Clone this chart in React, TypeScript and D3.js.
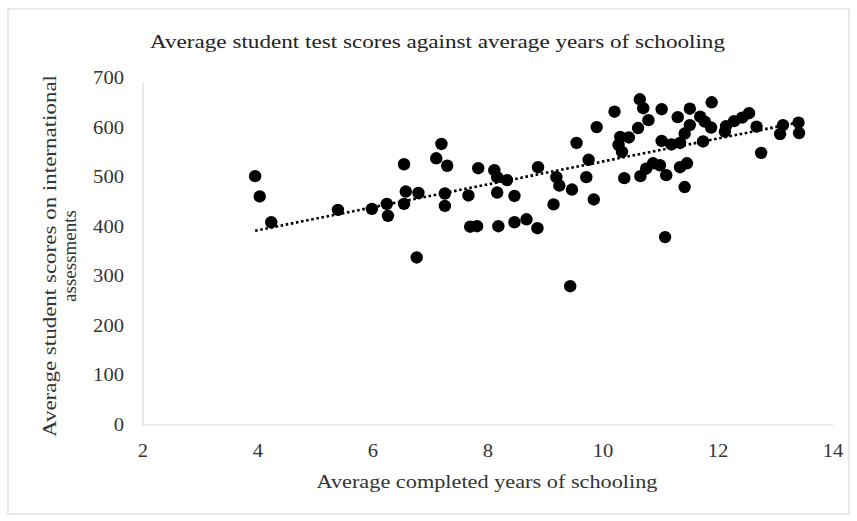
import React from "react";
import * as d3 from "d3";

const yearsOfSchooling: number[] = [
  3.95, 4.03, 4.23, 5.39, 5.98, 6.24, 6.26, 6.54, 6.57, 6.54, 6.79, 6.76,
  7.19, 7.10, 7.29, 7.25, 7.25, 7.66, 7.83, 7.69, 7.81, 8.11, 8.16, 8.33,
  8.16, 8.18, 8.46, 8.46, 8.67, 8.86, 8.87, 9.14, 9.19, 9.24, 9.46, 9.43,
  9.54, 9.75, 9.71, 9.84, 9.89, 10.20, 10.30, 10.27, 10.33, 10.45, 10.61,
  10.37, 10.64, 10.70, 10.79, 10.65, 10.75, 10.87, 10.99, 11.10, 11.34,
  11.46, 11.42, 11.08, 11.02, 11.30, 11.51, 11.89, 11.02, 11.19, 11.34,
  11.42, 11.51, 11.69, 11.77, 11.88, 11.74, 12.14, 12.12, 12.28, 12.42,
  12.54, 12.67, 12.75, 13.08, 13.13, 13.40, 13.41,
];
const testScores: number[] = [
  502, 461, 409, 434, 436, 446, 422, 526, 471, 446, 468, 338,
  567, 538, 523, 467, 442, 463, 518, 400, 401, 514, 500, 494,
  469, 401, 462, 409, 415, 397, 520, 445, 500, 483, 475, 280,
  569, 535, 500, 455, 601, 632, 581, 565, 551, 580, 599,
  498, 657, 639, 615, 502, 517, 528, 524, 504, 520,
  528, 480, 379, 637, 621, 638, 651, 573, 566, 569,
  588, 605, 622, 612, 600, 572, 603, 592, 613, 620,
  629, 602, 549, 587, 605, 610, 589,
];

const xTicks: number[] = [2, 4, 6, 8, 10, 12, 14];
const yTicks: number[] = [0, 100, 200, 300, 400, 500, 600, 700];

const titleText = "Average student test scores against average years of schooling";
const xAxisTitle = "Average completed years of schooling";
const yAxisTitleLines = ["Average student scores on international", "assessments"];

const FONT = "'Liberation Serif', 'Times New Roman', serif";

export default function App() {
  const W = 857;
  const H = 521;
  const x = d3.scaleLinear().domain([2, 14]).range([143, 833]);
  const y = d3.scaleLinear().domain([0, 700]).range([425, 78]);

  const pts = yearsOfSchooling.map((v, i) => ({ x: v, y: testScores[i] }));
  const mx = d3.mean(pts, (p) => p.x) as number;
  const my = d3.mean(pts, (p) => p.y) as number;
  const sxy = d3.sum(pts, (p) => (p.x - mx) * (p.y - my));
  const sxx = d3.sum(pts, (p) => (p.x - mx) * (p.x - mx));
  const slope = sxy / sxx;
  const intercept = my - slope * mx;
  const [minX, maxX] = d3.extent(pts, (p) => p.x) as [number, number];
  const trend = [minX, maxX].map((v) => ({ x: v, y: intercept + slope * v }));
  const line = d3
    .line<{ x: number; y: number }>()
    .x((d) => x(d.x))
    .y((d) => y(d.y));

  return (
    <svg
      width={W}
      height={H}
      style={{ position: "absolute", left: 0, top: 0, background: "#fff" }}
      fontFamily={FONT}
    >
      <rect x={0} y={0} width={W} height={H} fill="#ffffff" />
      <rect x={8} y={9} width={841} height={505} fill="none" stroke="#e2e2e2" strokeWidth={1.5} />
      <text x={437.5} y={48} textAnchor="middle" fontSize={19} fill="#222" textLength={575} lengthAdjust="spacingAndGlyphs">
        {titleText}
      </text>
      {/* axes */}
      <line x1={x(2)} x2={x(2)} y1={83} y2={y(0)} stroke="#d4d4d4" strokeWidth={1} />
      <line x1={x(2)} x2={x(14)} y1={y(0)} y2={y(0)} stroke="#d4d4d4" strokeWidth={1} />
      {yTicks.map((t) => (
        <text key={"y" + t} x={124} y={y(t) + 6} textAnchor="end" fontSize={18} fill="#333"
          textLength={String(t).length * 10.3} lengthAdjust="spacingAndGlyphs">
          {t}
        </text>
      ))}
      {xTicks.map((t) => (
        <text key={"x" + t} x={x(t)} y={457} textAnchor="middle" fontSize={18} fill="#333"
          textLength={String(t).length * 10.3} lengthAdjust="spacingAndGlyphs">
          {t}
        </text>
      ))}
      <text x={487} y={488} textAnchor="middle" fontSize={19} fill="#333" textLength={341} lengthAdjust="spacingAndGlyphs">
        {xAxisTitle}
      </text>
      <g transform="translate(56,256) rotate(-90)">
        <text x={0} y={0} textAnchor="middle" fontSize={19} fill="#333" textLength={362} lengthAdjust="spacingAndGlyphs">
          {yAxisTitleLines[0]}
        </text>
        <text x={0} y={20} textAnchor="middle" fontSize={19} fill="#333">
          {yAxisTitleLines[1]}
        </text>
      </g>
      {pts.map((p, i) => (
        <circle key={i} cx={x(p.x)} cy={y(p.y)} r={6.2} fill="#000" />
      ))}
      <path d={line(trend) || ""} fill="none" stroke="#000" strokeWidth={2.6} strokeDasharray="2.6 2.6" />
    </svg>
  );
}
